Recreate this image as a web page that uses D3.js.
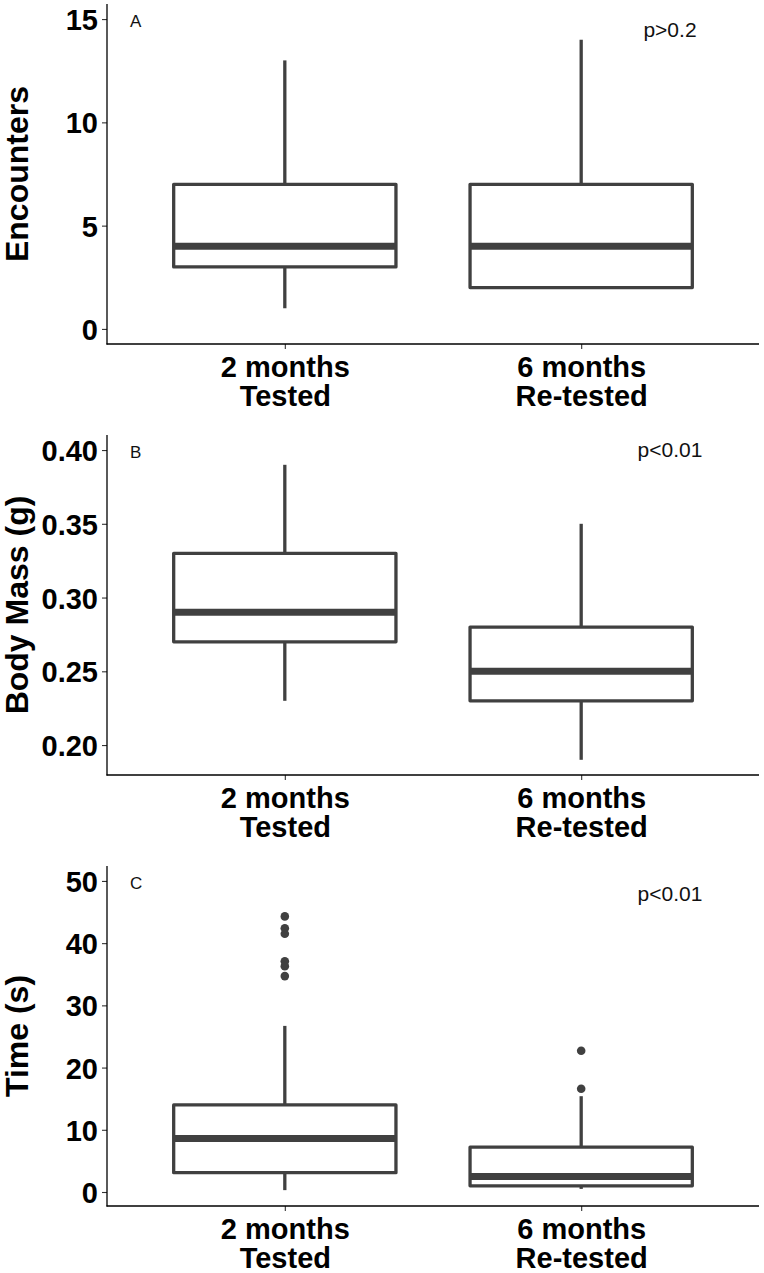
<!DOCTYPE html>
<html>
<head>
<meta charset="utf-8">
<script src="https://cdn.jsdelivr.net/npm/d3@7"></script>
<style>
  body { margin: 0; background: #fff; }
  svg { display: block; }
  .tick-label { font-family: "Liberation Sans", Arial, sans-serif; font-weight: bold; fill: #000; }
  .axis-title { font-family: "Liberation Sans", Arial, sans-serif; font-weight: bold; fill: #000; }
  .note { font-family: "Liberation Sans", Arial, sans-serif; fill: #111; }
</style>
</head>
<body>
<div id="chart"></div>
<script>
// ── Data ──────────────────────────────────────────────────────
const ageLabels    = ["2 months", "6 months"];
const statusLabels = ["Tested", "Re-tested"];

// box stats per group: [lower whisker, q1, median, q3, upper whisker]
const encounterStats = [[1, 3, 4, 7, 13], [2, 2, 4, 7, 14]];
const massStats      = [[0.23, 0.27, 0.29, 0.33, 0.39], [0.19, 0.23, 0.25, 0.28, 0.35]];
const timeStats      = [[0.3, 3.1, 8.6, 14.0, 26.7], [0.5, 1.0, 2.5, 7.2, 15.4]];

const encounterOutliers = [[], []];
const massOutliers      = [[], []];
const timeOutliers      = [[44.3, 42.4, 41.5, 37.1, 36.3, 34.7], [22.7, 16.6]];

const encounterTicks = [0, 5, 10, 15];
const massTicks      = [0.20, 0.25, 0.30, 0.35, 0.40];
const timeTicks      = [0, 10, 20, 30, 40, 50];

const panelLetters = ["A", "B", "C"];
const pLabels      = ["p>0.2", "p<0.01", "p<0.01"];

// ── Layout ────────────────────────────────────────────────────
const W = 764, H = 1273;
const plotLeft = 107, plotRight = 759;
const panelTop = [4, 435, 866], panelH = 340;
const ink = "#404040";

const panels = [
  { stats: encounterStats, out: encounterOutliers, ticks: encounterTicks, domain: [-0.73, 15.73],
    fmt: d3.format("d"), title: "Encounters", pY: 14.13 },
  { stats: massStats, out: massOutliers, ticks: massTicks, domain: [0.1797, 0.4102],
    fmt: d3.format(".2f"), title: "Body Mass (g)", pY: 0.3953 },
  { stats: timeStats, out: timeOutliers, ticks: timeTicks, domain: [-2.25, 52.4],
    fmt: d3.format("d"), title: "Time (s)", pY: 46.8 }
];

const svg = d3.select("#chart").append("svg")
  .attr("width", W).attr("height", H);

const x = d3.scalePoint()
  .domain(ageLabels)
  .range([plotLeft, plotRight])
  .padding(0.6);
const boxW = x.step() * 0.75;

panels.forEach((p, i) => {
  const top = panelTop[i], bottom = top + panelH;
  const y = d3.scaleLinear().domain(p.domain).range([bottom, top]);
  const g = svg.append("g");

  // y axis
  const yAxis = d3.axisLeft(y).tickValues(p.ticks).tickFormat(p.fmt)
    .tickSize(5).tickPadding(4);
  const ya = g.append("g").attr("transform", `translate(${plotLeft},0)`).call(yAxis);
  ya.select(".domain").remove();
  ya.selectAll(".tick line").attr("stroke", "#333").attr("stroke-width", 1.1);
  ya.selectAll(".tick text").attr("class", "tick-label").style("font-size", "29px")
    .attr("dy", "0.36em");

  // x axis (two-line category labels)
  const xAxis = d3.axisBottom(x).tickSize(5).tickFormat("");
  const xa = g.append("g").attr("transform", `translate(0,${bottom})`).call(xAxis);
  xa.select(".domain").remove();
  xa.selectAll(".tick line").attr("stroke", "#333").attr("stroke-width", 1.1);
  xa.selectAll(".tick").each(function(d, k) {
    const t = d3.select(this).append("text")
      .attr("class", "tick-label").style("font-size", "29px")
      .attr("text-anchor", "middle").attr("fill", "#000");
    t.append("tspan").attr("x", 0).attr("y", 33).text(ageLabels[k]);
    t.append("tspan").attr("x", 0).attr("y", 62).text(statusLabels[k]);
  });

  // axis lines
  g.append("line").attr("x1", plotLeft).attr("x2", plotLeft)
    .attr("y1", top).attr("y2", bottom + 0.5)
    .attr("stroke", "#000").attr("stroke-width", 1.3);
  g.append("line").attr("x1", plotLeft - 0.5).attr("x2", plotRight)
    .attr("y1", bottom).attr("y2", bottom)
    .attr("stroke", "#000").attr("stroke-width", 1.3);

  // boxes
  p.stats.forEach((s, k) => {
    const cx = x(ageLabels[k]);
    const [lo, q1, med, q3, hi] = s;
    g.append("line").attr("x1", cx).attr("x2", cx).attr("y1", y(hi)).attr("y2", y(q3))
      .attr("stroke", ink).attr("stroke-width", 3.3);
    g.append("line").attr("x1", cx).attr("x2", cx).attr("y1", y(q1)).attr("y2", y(lo))
      .attr("stroke", ink).attr("stroke-width", 3.3);
    g.append("rect").attr("x", cx - boxW / 2).attr("y", y(q3))
      .attr("width", boxW).attr("height", Math.max(0, y(q1) - y(q3)))
      .attr("fill", "#fff").attr("stroke", ink).attr("stroke-width", 3.3)
      .attr("stroke-linejoin", "round");
    g.append("line").attr("x1", cx - boxW / 2).attr("x2", cx + boxW / 2)
      .attr("y1", y(med)).attr("y2", y(med))
      .attr("stroke", ink).attr("stroke-width", 7);
    g.selectAll(null).data(p.out[k]).join("circle")
      .attr("cx", cx).attr("cy", d => y(d)).attr("r", 4.3).attr("fill", ink);
  });

  // axis title
  g.append("text").attr("class", "axis-title").style("font-size", "32px")
    .attr("text-anchor", "middle")
    .attr("transform", `translate(28,${(top + bottom) / 2}) rotate(-90)`)
    .text(p.title);

  // panel letter & p-value
  g.append("text").attr("class", "note").style("font-size", "17px")
    .attr("x", 130).attr("y", top + 23).text(panelLetters[i]);
  g.append("text").attr("class", "note").style("font-size", "21px")
    .attr("text-anchor", "middle").attr("x", 670).attr("y", y(p.pY))
    .text(pLabels[i]);
});
</script>
</body>
</html>
